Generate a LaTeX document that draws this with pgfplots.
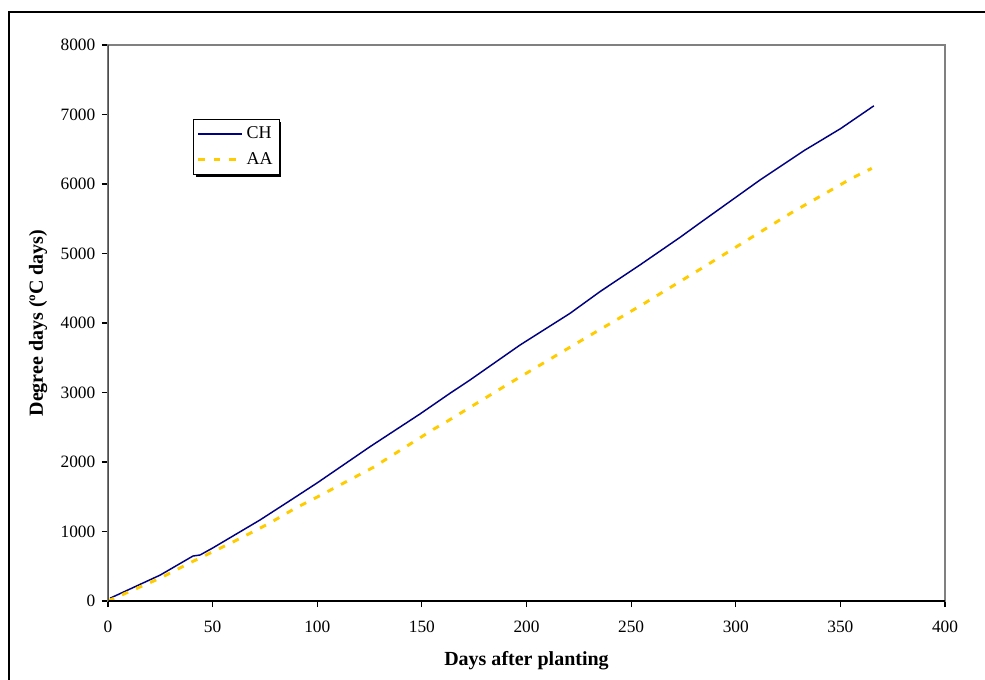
\documentclass[border=0pt]{standalone}
\usepackage{pgfplots}
\pgfplotsset{compat=1.18}
\usepackage{fontspec}
\setmainfont{Liberation Serif}
\definecolor{chblue}{RGB}{0,0,128}
\definecolor{aayellow}{RGB}{255,204,0}
\definecolor{spinegray}{RGB}{128,128,128}
\begin{document}
\begin{tikzpicture}[x=0.75pt,y=0.75pt]
\path[use as bounding box] (0,0) rectangle (985,679);
\draw[black,line width=1.3pt] (9,-5) -- (9,667) -- (990,667);
\begin{axis}[
  at={(81pt,58.5pt)}, anchor=south west,
  scale only axis, width=627.75pt, height=417pt,
  xmin=0, xmax=400, ymin=0, ymax=8000,
  xtick={0,50,...,400}, ytick={0,1000,...,8000},
  tick align=outside, xtick pos=lower, ytick pos=lower,
  major tick length=4.5pt,
  tick style={black, line width=0.8pt},
  axis line style={spinegray, line width=0.8pt},
  scaled ticks=false,
  /pgf/number format/assume math mode=true,
  /pgf/number format/1000 sep={},
  ticklabel style={font=\fontsize{13}{15}\selectfont},
  xticklabel style={yshift=-7pt},
  yticklabel style={xshift=-1.5pt},
  xlabel={Days after planting}, ylabel={Degree days (ºC days)},
  label style={font=\fontsize{15}{18}\selectfont\bfseries},
  xlabel style={at={(axis description cs:0.5,-0.108)}, anchor=center},
  ylabel style={at={(axis description cs:-0.0836,0.5)}, anchor=center},
  legend style={at={(axis description cs:0.1012,0.8664)}, anchor=north west,
    draw=black, fill=white,
    font=\fontsize{13.5}{16}\selectfont, row sep=5pt, inner xsep=3pt, inner ysep=3.5pt},
  legend cell align=left,
  legend image code/.code={\draw[#1] (0pt,0pt) -- (33pt,0pt);},
]
\fill[black] (rel axis cs:0.1048,0.8610) rectangle (rel axis cs:0.2067,0.7626);
\addplot[chblue, line width=1.1pt] coordinates {
(1,40)(25,374)(40.6,647)(44,662)(50,762)(72.6,1165)(86.9,1443)(100,1700)
(125.2,2220)(149.1,2691)(163.4,2988)(173,3180)(196.9,3683)(220.8,4139)
(235.1,4451)(254.2,4835)(273.4,5233)(282.9,5440)(311.6,6058)(333.1,6489)
(350,6795)(366,7125)};
\addlegendentry{CH}
\addplot[aayellow, line width=2.2pt, dash pattern=on 5pt off 6.5pt] coordinates {
(0,0)(25,330)(39,547)(60,853)(76.5,1108)(89.4,1333)(100,1496)(126.8,1923)
(155.5,2470)(161.8,2580)(190.5,3108)(197.7,3237)(226.4,3752)(241.5,4019)
(255.8,4273)(283.7,4787)(326.7,5588)(355.4,6082)(365,6225)};
\addlegendentry{AA}
\draw[black, line width=0.8pt] (rel axis cs:0,0) -- (rel axis cs:1,0);
\draw[black!70, line width=1.2pt] (rel axis cs:0,0) -- (rel axis cs:0,1);
\end{axis}
\end{tikzpicture}
\end{document}
